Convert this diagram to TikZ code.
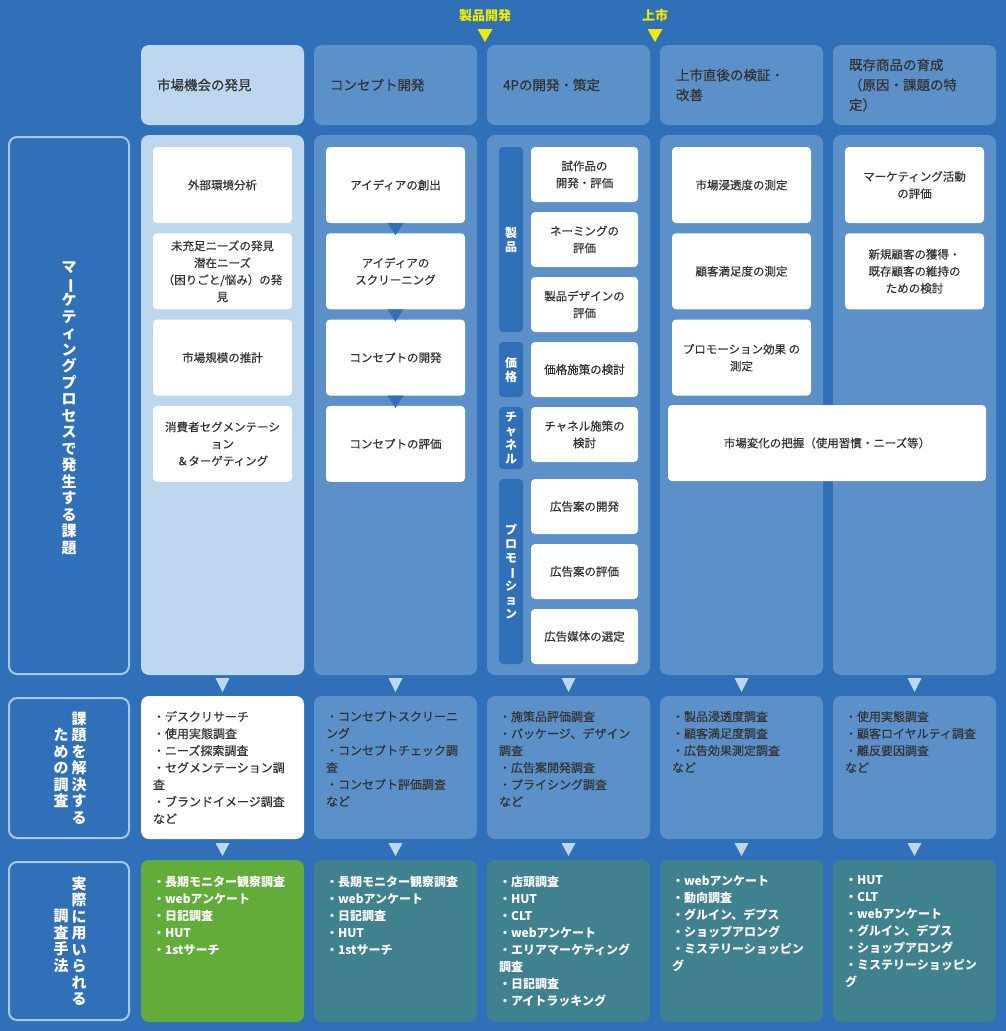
\documentclass[tikz,border=0pt]{standalone}
\usepackage{fontspec}
\setmainfont{Noto Sans CJK JP}
\newfontfamily\medfont{Noto Sans CJK JP}[FakeBold=0.35]
\definecolor{bgblue}{HTML}{3070B8}
\definecolor{lightblue}{HTML}{BDD7EE}
\definecolor{midblue}{HTML}{5C90C9}
\definecolor{grassgreen}{HTML}{62AD3A}
\definecolor{tealblue}{HTML}{3F818F}
\definecolor{milestone}{HTML}{F2EA00}
\definecolor{edgeblue}{HTML}{A8C6E8}
\definecolor{inktext}{HTML}{333333}
\newcommand\tatebo{\rotatebox[origin=c]{-90}{ー}}

\begin{document}
\begin{tikzpicture}[x=1pt,y=-1pt,
  every node/.style={inner sep=0pt,outer sep=0pt},
  panel/.style={rounded corners=8pt,anchor=north west,minimum width=163pt},
  head/.style={panel,minimum height=80pt,text width=131pt,inner xsep=16pt,align=left,text=inktext,font=\medfont\fontsize{13.5}{20}\selectfont},
  card/.style={fill=white,rounded corners=4pt,anchor=north west,minimum width=139pt,minimum height=76pt,align=center,text=inktext,font=\medfont\fontsize{11.5}{17}\selectfont},
  slim/.style={card,minimum width=107pt,minimum height=55pt},
  strip/.style={fill=bgblue,rounded corners=4pt,anchor=north west,minimum width=24pt,align=center,text=white,font=\fontsize{12}{14}\selectfont\bfseries},
  frame/.style={draw=edgeblue,line width=2pt,rounded corners=8pt,anchor=north west,minimum width=120pt},
  tate/.style={align=center,text=white,font=\fontsize{15}{16.5}\selectfont\bfseries},
  list/.style={anchor=north west,align=left,text=inktext,font=\medfont\fontsize{12}{17}\selectfont},
  flow/.style={fill=bgblue},
  down/.style={fill=lightblue},
  mile/.style={text=milestone,font=\fontsize{13}{15}\selectfont\bfseries}]
\useasboundingbox (0,0) rectangle (1006,1031);
\fill[bgblue] (0,0) rectangle (1006,1031);

% milestones
\node[mile] (dev) at (485,16) {製品開発};
\node[mile] (launch) at (655,16) {上市};
\foreach \m in {dev,launch}
  \fill[milestone] (\m) ++(-7.5,13) -- ++(15,0) -- ++(-7.5,13) -- cycle;

% column heads and bodies
\foreach \lab/\shade [count=\i] in {市場機会の発見/lightblue,コンセプト開発/midblue,4Pの開発・策定/midblue,{上市直後の検証・\\改善}/midblue,{既存商品の育成\\（原因・課題の特\\定）}/midblue}
  \node[head,fill=\shade] (h\i) at ({173*\i-32},45) {\lab};
\foreach \shade [count=\i] in {lightblue,midblue,midblue,midblue,midblue}
  \node[panel,fill=\shade,minimum height=540pt] (b\i) at ({173*\i-32},135) {};
\foreach \shade [count=\i] in {white,midblue,midblue,midblue,midblue}
  \node[panel,fill=\shade,minimum height=143pt] (p\i) at ({173*\i-32},696) {};
\foreach \shade [count=\i] in {grassgreen,tealblue,tealblue,tealblue,tealblue}
  \node[panel,fill=\shade,minimum height=162pt] (r\i) at ({173*\i-32},860) {};

% row labels
\node[frame,minimum height=537pt] (f1) at (9,137) {};
\node[frame,minimum height=140pt] (f2) at (9,698) {};
\node[frame,minimum height=158pt] (f3) at (9,862) {};
\node[tate] at ([yshift=-3pt]f1.center) {マ\\\tatebo\\ケ\\テ\\ィ\\ン\\グ\\プ\\ロ\\セ\\ス\\で\\発\\生\\す\\る\\課\\題};
\node[tate] at ([xshift=10pt]f2.center) {課\\題\\を\\解\\決\\す\\る};
\node[tate] at ([xshift=-8pt]f2.center) {た\\め\\の\\調\\査};
\node[tate] at ([xshift=10pt]f3.center) {実\\際\\に\\用\\い\\ら\\れ\\る};
\node[tate] at ([xshift=-8pt]f3.center) {調\\査\\手\\法};

% issues
\foreach \txt [count=\i] in {外部環境分析,{未充足ニーズの発見\\潜在ニーズ\\（困りごと/悩み）の発\\見},市場規模の推計,{消費者セグメンテーシ\\ョン\\＆ターゲティング}}
  \node[card] (o\i) at (153,{147+86.3*(\i-1)}) {\txt};
\foreach \txt [count=\i] in {アイディアの創出,{アイディアの\\スクリーニング},コンセプトの開発,コンセプトの評価}
  \node[card] (c\i) at (326,{147+86.3*(\i-1)}) {\txt};
\foreach \i/\j in {1/2,2/3,3/4}
  \fill[flow] ([xshift=-8pt]c\i.south) -- ([xshift=8pt]c\i.south) -- ([yshift=-2pt]c\j.north) -- cycle;

\foreach \txt/\y [count=\i] in {{試作品の\\開発・評価}/147,{ネーミングの\\評価}/212,{製品デザインの\\評価}/277,価格施策の検討/342,{チャネル施策の\\検討}/407,広告案の開発/479,広告案の評価/544,広告媒体の選定/609}
  \node[slim] (q\i) at (531,\y) {\txt};
\node[strip,minimum height=185pt] (s1) at (499,147) {製\\品};
\node[strip,minimum height=55pt] (s2) at (499,342) {価\\格};
\node[strip,minimum height=62pt] (s3) at (499,407) {チ\\ャ\\ネ\\ル};
\node[strip,minimum height=185pt] (s4) at (499,479) {プ\\ロ\\モ\\\tatebo\\シ\\ョ\\ン};

\foreach \txt [count=\i] in {市場浸透度の測定,顧客満足度の測定,{プロモーション効果 の\\測定}}
  \node[card] (v\i) at (672,{147+86.3*(\i-1)}) {\txt};
\foreach \txt [count=\i] in {{マーケティング活動\\の評価},{新規顧客の獲得・\\既存顧客の維持の\\ための検討}}
  \node[card] (g\i) at (845,{147+86.3*(\i-1)}) {\txt};
\node[card,minimum width=318pt] (trend) at (668,405) {市場変化の把握（使用習慣・ニーズ等）};

% research
\foreach \txt [count=\i] in {{・デスクリサーチ\\・使用実態調査\\・ニーズ探索調査\\・セグメンテーション調\\査\\・ブランドイメージ調査\\など},
  {・コンセプトスクリーニ\\ング\\・コンセプトチェック調\\査\\・コンセプト評価調査\\など},
  {・施策品評価調査\\・パッケージ、デザイン\\調査\\・広告案開発調査\\・プライシング調査\\など},
  {・製品浸透度調査\\・顧客満足度調査\\・広告効果測定調査\\など},
  {・使用実態調査\\・顧客ロイヤルティ調査\\・離反要因調査\\など}}
  \node[list] (pt\i) at ([shift={(12,15)}]p\i.north west) {\txt};

% methods
\foreach \txt [count=\i] in {{・長期モニター観察調査\\・webアンケート\\・日記調査\\・HUT\\・1stサーチ},
  {・長期モニター観察調査\\・webアンケート\\・日記調査\\・HUT\\・1stサーチ},
  {・店頭調査\\・HUT\\・CLT\\・webアンケート\\・エリアマーケティング\\調査\\・日記調査\\・アイトラッキング},
  {・webアンケート\\・動向調査\\・グルイン、デプス\\・ショップアロング\\・ミステリーショッピン\\グ},
  {・HUT\\・CLT\\・webアンケート\\・グルイン、デプス\\・ショップアロング\\・ミステリーショッピン\\グ}}
  \node[list,text=white,font=\fontsize{12}{17}\selectfont\bfseries] (rt\i) at ([shift={(12,16)}]r\i.north west) {\txt};

% arrows between rows
\foreach \i in {1,...,5} {
  \fill[down] ([xshift=-7pt,yshift=-3pt]b\i.south) -- ([xshift=7pt,yshift=-3pt]b\i.south) -- ([yshift=4pt]p\i.north) -- cycle;
  \fill[down] ([xshift=-7pt,yshift=-4pt]p\i.south) -- ([xshift=7pt,yshift=-4pt]p\i.south) -- ([yshift=4pt]r\i.north) -- cycle;
}
\end{tikzpicture}
\end{document}
